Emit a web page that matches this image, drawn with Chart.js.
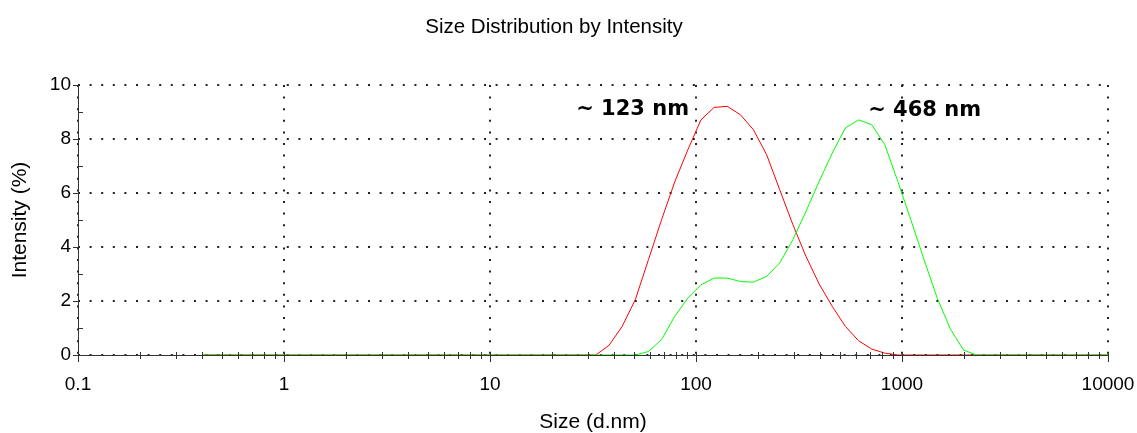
<!DOCTYPE html>
<html lang="en-US">
  <head>
    <meta charset="utf-8" />
    <title>Size Distribution by Intensity</title>
    <script src="https://cdn.jsdelivr.net/npm/chart.js@4/dist/chart.umd.min.js"></script>
    <style>
      html, body { margin: 0; padding: 0; background: #fff; }
      #wrap { width: 1137px; height: 433px; position: relative; }
    </style>
  </head>
  <body>
    <div id="wrap"><canvas id="chart0"></canvas></div>
  </body>

  <script>
    // size bins (d.nm)
    const sizes = [
      0.4, 0.4632, 0.5365, 0.6213, 0.7195, 0.8332, 0.9649, 1.117, 1.294, 1.499,
      1.736, 2.01, 2.328, 2.696, 3.122, 3.615, 4.187, 4.849, 5.615, 6.503,
      7.531, 8.721, 10.1, 11.7, 13.54, 15.69, 18.17, 21.04, 24.36, 28.21,
      32.67, 37.84, 43.82, 50.75, 58.77, 68.06, 78.82, 91.28, 105.7, 122.4,
      141.8, 164.2, 190.1, 220.2, 255.0, 295.3, 342.0, 396.1, 458.7, 531.2,
      615.1, 712.4, 825.0, 955.4, 1106, 1281, 1484, 1718, 1990, 2305,
      2669, 3091, 3580, 4145, 4801, 5560, 6439, 7456, 8635, 10000
    ]

    // intensity (%) per bin
    const redIntensity = [
      0, 0, 0, 0, 0, 0, 0, 0, 0, 0,
      0, 0, 0, 0, 0, 0, 0, 0, 0, 0,
      0, 0, 0, 0, 0, 0, 0, 0, 0, 0,
      0, 0.36, 1.06, 2.05, 3.53, 5.01, 6.41, 7.6, 8.71, 9.17,
      9.21, 8.9, 8.34, 7.42, 6.12, 4.83, 3.65, 2.63, 1.8, 1.06,
      0.53, 0.22, 0.07, 0, 0, 0, 0, 0, 0, 0,
      0, 0, 0, 0, 0, 0, 0, 0, 0, 0
    ]

    const greenIntensity = [
      0, 0, 0, 0, 0, 0, 0, 0, 0, 0,
      0, 0, 0, 0, 0, 0, 0, 0, 0, 0,
      0, 0, 0, 0, 0, 0, 0, 0, 0, 0,
      0, 0, 0, 0, 0.13, 0.57, 1.43, 2.11, 2.6, 2.85,
      2.85, 2.72, 2.7, 2.91, 3.41, 4.27, 5.32, 6.43, 7.48, 8.41,
      8.71, 8.53, 7.79, 6.42, 4.99, 3.52, 2.1, 0.96, 0.18, 0,
      0, 0, 0, 0, 0, 0, 0, 0, 0, 0
    ]

    const xMajorTicks = [0.1, 1, 10, 100, 1000, 10000]
    const yMajorTicks = [0, 2, 4, 6, 8, 10]

    const peakLabels = [
      { text: "~ 123 nm", x: 92.5, y: 9.08, align: "right" },
      { text: "~ 468 nm", x: 685, y: 9.05, align: "left" },
    ]

    const toPoints = (vals) => sizes.map((s, i) => ({ x: s, y: vals[i] }))

    // decades plus 2..9 minor marks
    const xAllTicks = []
    xMajorTicks.forEach((m, i) => {
      xAllTicks.push(m)
      if (i < xMajorTicks.length - 1) {
        for (let k = 2; k <= 9; k++) xAllTicks.push(m * k)
      }
    })

    const isMajorX = (v) => xMajorTicks.some((m) => Math.abs(m - v) < 1e-9)

    const tickFont = { family: "'Liberation Sans', Arial, sans-serif", size: 19 }
    const titleFont = { family: "'Liberation Sans', Arial, sans-serif", size: 21, lineHeight: 1 }
    const dots = "#222"
    const axisColor = "#333"

    // solid axis lines, drawn under the curves
    const axisLines = {
      id: "axisLines",
      beforeDatasetsDraw(chart) {
        const { ctx, chartArea: a } = chart
        ctx.save()
        ctx.strokeStyle = axisColor
        ctx.lineWidth = 1
        ctx.beginPath()
        ctx.moveTo(Math.round(a.left) + 0.5, a.top)
        ctx.lineTo(Math.round(a.left) + 0.5, a.bottom)
        ctx.moveTo(a.left, Math.round(a.bottom) + 0.5)
        ctx.lineTo(a.right, Math.round(a.bottom) + 0.5)
        ctx.stroke()
        ctx.restore()
      },
    }

    // tick marks and peak labels, drawn over the curves
    const axisMarks = {
      id: "axisMarks",
      afterDatasetsDraw(chart) {
        const { ctx, chartArea: a, scales: { x, y } } = chart
        ctx.save()
        ctx.strokeStyle = axisColor
        ctx.lineWidth = 1
        ctx.beginPath()
        xAllTicks.forEach((v) => {
          const px = Math.round(x.getPixelForValue(v)) + 0.5
          ctx.moveTo(px, a.bottom - 3)
          ctx.lineTo(px, a.bottom + (isMajorX(v) ? 7 : 4))
        })
        for (let v = 0; v <= 10; v++) {
          const py = Math.round(y.getPixelForValue(v)) + 0.5
          if (yMajorTicks.includes(v)) {
            ctx.moveTo(a.left - 5, py)
            ctx.lineTo(a.left, py)
          } else {
            ctx.moveTo(a.left, py)
            ctx.lineTo(a.left + 5, py)
          }
        }
        ctx.stroke()

        ctx.fillStyle = "#000"
        ctx.font = "bold 21px 'DejaVu Sans', Verdana, sans-serif"
        ctx.textBaseline = "middle"
        peakLabels.forEach((p) => {
          ctx.textAlign = p.align
          ctx.fillText(p.text, x.getPixelForValue(p.x), y.getPixelForValue(p.y))
        })
        ctx.restore()
      },
    }

    var chart0 = new Chart(document.getElementById("chart0").getContext("2d"), {
      type: "line",
      data: {
        datasets: [
          {
            label: "Record 2",
            data: toPoints(greenIntensity),
            borderColor: "rgb(0,255,0)",
            borderWidth: 1,
            pointRadius: 0,
            tension: 0,
            order: 1,
          },
          {
            label: "Record 1",
            data: toPoints(redIntensity),
            borderColor: "rgb(255,0,0)",
            borderWidth: 1,
            pointRadius: 0,
            tension: 0,
            order: 2,
          },
        ],
      },
      options: {
        responsive: true,
        maintainAspectRatio: false,
        animation: false,
        layout: { padding: { left: 0, right: 29, top: 0, bottom: 0 } },
        plugins: {
          legend: { display: false },
          tooltip: { enabled: false },
          title: {
            display: true,
            text: "Size Distribution by Intensity",
            color: "#000",
            font: { family: "'Liberation Sans', Arial, sans-serif", size: 20.5, weight: "normal", lineHeight: 1.2 },
            padding: { top: 15, bottom: 45.4 },
          },
        },
        scales: {
          x: {
            type: "logarithmic",
            min: 0.1,
            max: 10000,
            afterBuildTicks: (scale) => {
              scale.ticks = xAllTicks.map((v) => ({ value: v }))
            },
            afterFit: (scale) => {
              scale.height = 78
              scale.paddingLeft = 0
              scale.paddingRight = 0
            },
            ticks: {
              autoSkip: false,
              maxRotation: 0,
              padding: 18,
              color: "#000",
              font: tickFont,
              callback: (v) => (isMajorX(v) ? String(v) : ""),
            },
            grid: {
              drawTicks: false,
              lineWidth: 2,
              color: (ctx) => (ctx.tick && isMajorX(ctx.tick.value) ? dots : "rgba(0,0,0,0)"),
            },
            border: { display: false, dash: [2, 9.6] },
            title: {
              display: true,
              text: "Size (d.nm)",
              color: "#000",
              font: titleFont,
              padding: { top: 0, bottom: 0 },
            },
          },
          y: {
            min: 0,
            max: 10,
            afterFit: (scale) => {
              scale.width = 78
              scale.paddingTop = 0
              scale.paddingBottom = 0
            },
            ticks: {
              stepSize: 1,
              padding: 7,
              color: "#000",
              font: tickFont,
              callback: (v) => (yMajorTicks.includes(v) ? String(v) : ""),
            },
            grid: {
              drawTicks: false,
              lineWidth: 2,
              color: (ctx) => (ctx.tick && yMajorTicks.includes(ctx.tick.value) ? dots : "rgba(0,0,0,0)"),
            },
            border: { display: false, dash: [2, 9.6] },
            title: {
              display: true,
              text: "Intensity (%)",
              color: "#000",
              font: titleFont,
              padding: { top: 10, bottom: 0 },
            },
          },
        },
      },
      plugins: [axisLines, axisMarks],
    })
  </script>
</html>
